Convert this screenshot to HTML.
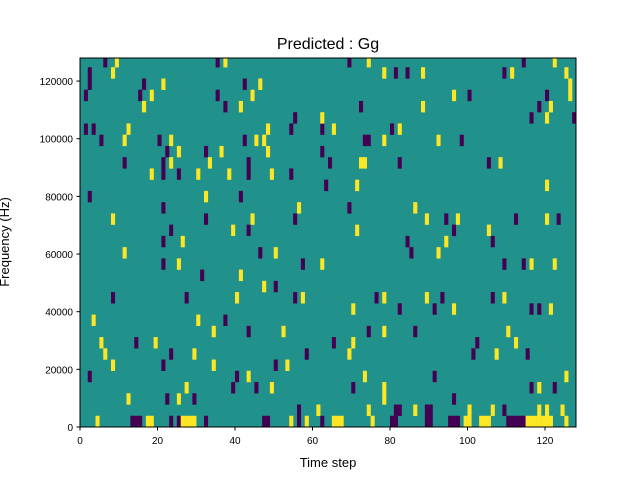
<!DOCTYPE html>
<html><head><meta charset="utf-8"><style>
body{margin:0;background:#fff;}
svg{display:block;font-family:"Liberation Sans","DejaVu Sans",sans-serif;}
</style></head><body>
<svg id="chart" width="640" height="480">
<rect width="640" height="480" fill="#fff"/>
<text x="328" y="49" font-size="16" text-anchor="middle">Predicted : Gg</text>
<text x="328" y="467" font-size="13" text-anchor="middle">Time step</text>
<text transform="translate(9,242) rotate(-90)" font-size="13" text-anchor="middle">Frequency (Hz)</text>
<g id="cells"></g>
<g id="axes"></g>
</svg>
<script>
const xTicks=[0,20,40,60,80,100,120];
const yTicks=[0,20000,40000,60000,80000,100000,120000];
const nTime=128, yMax=128000, binHz=3900;
const purpleCells=[[6,32],[35,32],[69,32],[114,32],
[2,31],[81,31],[84,31],[109,31],
[2,30],[16,30],[42,30],
[1,29],[15,29],[35,29],[100,29],[120,29],
[37,28],[72,28],[118,28],
[55,27],[116,27],[127,27],
[1,26],[3,26],[54,26],[62,26],[80,26],
[5,25],[20,25],[42,25],[73,25],[74,25],[98,25],
[22,24],[32,24],[62,24],
[11,23],[21,23],[43,23],[64,23],[82,23],[105,23],
[21,22],[25,22],[43,22],[54,22],
[63,21],
[2,20],[41,20],
[21,19],[69,19],
[32,18],[55,18],[94,18],[112,18],[123,18],
[23,17],[43,17],[96,17],
[21,16],[84,16],[106,16],
[46,15],[85,15],
[21,14],[57,14],[109,14],[114,14],
[31,13],
[50,12],
[8,11],[27,11],[55,11],[76,11],[93,11],[106,11],
[82,10],[91,10],[116,10],[118,10],
[37,9],
[43,8],[74,8],[86,8],
[14,7],[65,7],[102,7],
[23,6],[58,6],[101,6],[115,6],
[21,5],[50,5],
[2,4],[40,4],[91,4],
[39,3],[45,3],[70,3],[116,3],[122,3],
[22,2],[29,2],[96,2],
[56,1],[81,1],[82,1],[89,1],[90,1],[109,1],
[13,0],[14,0],[15,0],[23,0],[25,0],[32,0],[47,0],[48,0],[56,0],[62,0],[80,0],[81,0],[89,0],[90,0],[95,0],[96,0],[97,0],[110,0],[111,0],[112,0],[113,0],[114,0]];
const yellowCells=[[9,32],[37,32],[74,32],[122,32],
[8,31],[78,31],[88,31],[111,31],[125,31],
[21,30],[46,30],[126,30],
[18,29],[44,29],[96,29],[126,29],
[16,28],[41,28],[88,28],[121,28],
[62,27],[120,27],
[12,26],[48,26],[65,26],[82,26],
[11,25],[23,25],[45,25],[47,25],[78,25],[92,25],
[25,24],[36,24],[48,24],
[23,23],[33,23],[72,23],[73,23],[108,23],
[18,22],[30,22],[38,22],[49,22],
[71,21],[120,21],
[32,20],
[56,19],[86,19],
[8,18],[44,18],[89,18],[97,18],[120,18],
[39,17],[71,17],[105,17],
[26,16],[94,16],
[11,15],[50,15],[92,15],
[25,14],[62,14],[116,14],[122,14],
[41,13],
[47,12],
[40,11],[57,11],[78,11],[89,11],[109,11],
[70,10],[96,10],[121,10],
[3,9],[30,9],
[34,8],[52,8],[78,8],[110,8],
[5,7],[19,7],[70,7],[112,7],
[6,6],[29,6],[69,6],[107,6],
[8,5],[34,5],[53,5],
[43,4],[73,4],[125,4],
[27,3],[49,3],[78,3],[118,3],
[12,2],[25,2],[78,2],
[61,1],[74,1],[86,1],[100,1],[106,1],[118,1],[120,1],[124,1],
[4,0],[17,0],[18,0],[26,0],[27,0],[28,0],[29,0],[54,0],[58,0],[65,0],[66,0],[67,0],[75,0],[99,0],[100,0],[103,0],[104,0],[105,0],[115,0],[116,0],[117,0],[118,0],[119,0],[120,0],[121,0],[125,0]];

const L=80,R=576,T=58,B=427;
const NS='http://www.w3.org/2000/svg';
const xS=v=>L+v/nTime*(R-L);
const yS=v=>B-v/yMax*(B-T);
function mk(tag,attrs,parent){const e=document.createElementNS(NS,tag);for(const k in attrs)e.setAttribute(k,attrs[k]);parent.appendChild(e);return e;}
const cells=document.getElementById('cells');
const bg=mk('rect',{x:L,y:T,width:R-L,height:B-T,fill:'#21918c'},cells);


function drawCells(list,color,name){
  list.forEach(([t,f])=>{
    const y0=Math.max(T,yS((f+1)*binHz)), y1=yS(f*binHz);
    const r=mk('rect',{x:xS(t),y:y0,width:xS(t+1)-xS(t)+0.2,height:y1-y0+0.2,fill:color},cells);
    
    
  });
}
drawCells(purpleCells,'#440154','heatmap-cell-negative');
drawCells(yellowCells,'#fde725','heatmap-cell-positive');
const axes=document.getElementById('axes');
const frame=mk('rect',{x:L,y:T,width:R-L,height:B-T,fill:'none',stroke:'#000','stroke-width':1},axes);


xTicks.forEach(v=>{
  const x=xS(v);
  const tk=mk('line',{x1:x,x2:x,y1:B,y2:B+3.5,stroke:'#000'},axes);
  
  
  const tx=mk('text',{x:x,y:B+17,'font-size':10,'text-anchor':'middle'},axes);
  tx.textContent=v;
  
  
});
yTicks.forEach(v=>{
  const y=yS(v);
  const tk=mk('line',{x1:L-3.5,x2:L,y1:y,y2:y,stroke:'#000'},axes);
  
  
  const tx=mk('text',{x:L-7,y:y+4,'font-size':10,'text-anchor':'end'},axes);
  tx.textContent=v;
  
  
});
</script>
</body></html>
